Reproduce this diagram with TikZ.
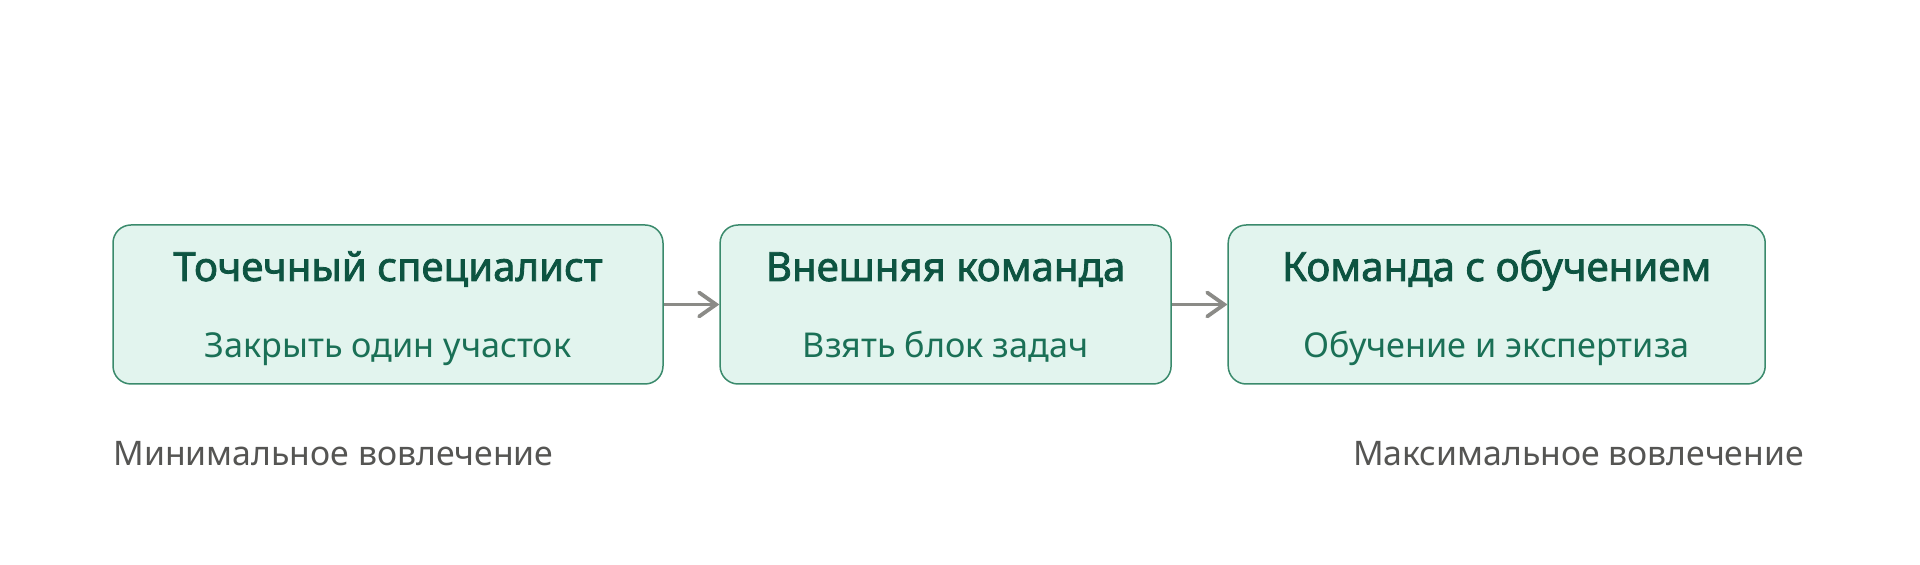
\documentclass[tikz,border=0pt]{standalone}
\usepackage{fontspec}
\setmainfont{Noto Sans}[AutoFakeBold=2]
\usetikzlibrary{positioning,arrows.meta}

\definecolor{boxFill}{HTML}{E2F4EE}
\definecolor{boxLine}{HTML}{3A8A6C}
\definecolor{titleGreen}{HTML}{0D5441}
\definecolor{subGreen}{HTML}{1A7056}
\definecolor{arrowGray}{HTML}{8B8B87}
\definecolor{labelGray}{HTML}{555553}

\tikzset{
  stage/.style={draw=boxLine, fill=boxFill, line width=0.75pt, rounded corners=9pt,
    minimum height=79.5pt, inner sep=0pt},
  stageTitle/.style={anchor=base, text=titleGreen, font=\fontsize{20.1}{24}\selectfont\bfseries},
  stageSub/.style={anchor=base, text=subGreen, font=\fontsize{17.1}{20}\selectfont},
  flow/.style={draw=arrowGray, line width=1.9pt,
    -{Straight Barb[length=8.5pt,width=12pt,line cap=round]}},
  scaleLabel/.style={anchor=base, text=labelGray, font=\fontsize{16.9}{20}\selectfont}
}

\begin{document}
\begin{tikzpicture}[x=0.5pt, y=-0.5pt, node distance=27.8pt]
            % Fix the page size
            \useasboundingbox (0,0) rectangle (1920,565);

            % Draw the three stages
            \node[stage, minimum width=275pt] (pointBox) at (388,304.5) {};
            \node[stage, minimum width=225.5pt, right=of pointBox] (extBox) {};
            \node[stage, minimum width=268.5pt, right=of extBox] (learnBox) {};

            % Put the texts into the stages
            \foreach \name/\title/\sub in {pointBox/Точечный специалист/Закрыть один участок,
                                          extBox/Внешняя команда/Взять блок задач,
                                          learnBox/Команда с обучением/Обучение и экспертиза}{
              \node[stageTitle] (\name Title) at ([yshift=11.75pt]\name.center) {\title};
              \node[stageSub] (\name Sub) at ([yshift=-26.75pt]\name.center) {\sub};
            }

            % Draw the arrows between stages
            \foreach \a/\b in {pointBox/extBox, extBox/learnBox}{
              \draw[flow] (\a) -- (\b);
            }

            % Draw the scale labels
            \node[scaleLabel, anchor=base west] (minLabel) at ([xshift=-2.9pt,yshift=-40.5pt]pointBox.south west) {Минимальное вовлечение};
            \node[scaleLabel, anchor=base east] (maxLabel) at ([xshift=22.5pt,yshift=-40.5pt]learnBox.south east) {Максимальное вовлечение};
        \end{tikzpicture}
\end{document}
